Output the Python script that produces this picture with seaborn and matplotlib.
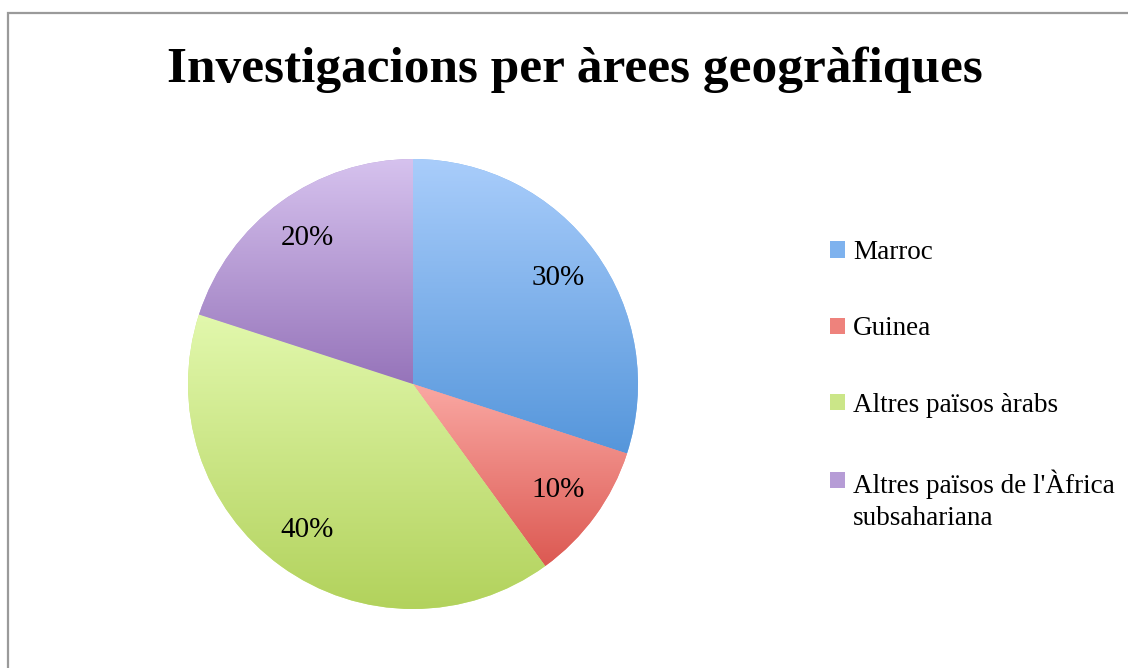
import numpy as np
import matplotlib.pyplot as plt
import seaborn as sns
from matplotlib.colors import LinearSegmentedColormap
from matplotlib.patches import Rectangle
from matplotlib.legend_handler import HandlerPatch

sns.set_theme(style="white")
plt.rcParams['font.family'] = ['Liberation Serif', 'DejaVu Serif']
plt.rcParams['text.color'] = 'black'

# Data
regions = ['Marroc', 'Guinea', 'Altres països àrabs',
           "Altres països de l'Àfrica\nsubsahariana"]
shares = [30, 10, 40, 20]
# (top, bottom) gradient colours of each slice
top_colors = ['#a9cdfb', '#faa8a3', '#e2f8ad', '#d6c2ee']
bottom_colors = ['#5596db', '#dc5952', '#b2d25c', '#9674ba']
mid_colors = ['#7eb2ee', '#ee827c', '#cbe688', '#b69cd6']

fig = plt.figure(figsize=(11.28, 6.68), dpi=100)
W, H = 1128, 668

# outer frame
fig.patches.append(Rectangle((8 / W, -0.05), 1.2, (668 - 13) / H + 0.05,
                             transform=fig.transFigure, fill=False,
                             edgecolor='#9a9a9a', linewidth=1.6))

fig.text(575 / W, 1 - 70 / H, 'Investigacions per àrees geogràfiques',
         ha='center', va='center', fontsize=37, fontweight='bold')

cx, cy, r = 413, 384, 225
ax = fig.add_axes([(cx - r) / W, (H - cy - r) / H, 2 * r / W, 2 * r / H])

wedges, texts, autotexts = ax.pie(shares, colors=mid_colors, startangle=90,
                                  counterclock=False, autopct='%1.0f%%',
                                  pctdistance=0.8,
                                  wedgeprops=dict(linewidth=0),
                                  textprops=dict(fontsize=21,
                                                 color='black'))

# vertical gradient fill inside every slice
grad = np.linspace(0, 1, 256).reshape(-1, 1)
for w, c_top, c_bot in zip(wedges, top_colors, bottom_colors):
    x0, y0, x1, y1 = w.get_path().get_extents().extents
    cmap = LinearSegmentedColormap.from_list('g', [c_bot, c_top])
    im = ax.imshow(grad, cmap=cmap, extent=[x0, x1, y0, y1],
                   origin='lower', aspect='auto', zorder=1.5,
                   interpolation='bilinear')
    im.set_clip_path(w)

ax.set_xlim(-1, 1)
ax.set_ylim(-1, 1)
ax.set_aspect('equal')
ax.axis('off')


def top_aligned_patch(legend, orig_handle, xdescent, ydescent, width,
                      height, fontsize):
    # put the marker of a two-line label next to its first line
    shift = 0
    if '\n' in regions[wedges.index(orig_handle)]:
        shift = 0.55 * fontsize * 1.35
    return Rectangle((-xdescent, -ydescent + shift), width, height)


leg = fig.legend(wedges, regions, loc='upper left',
                 bbox_to_anchor=(830 / W, 1 - 240 / H), frameon=False,
                 fontsize=19.5, handlelength=0.55, handleheight=0.55,
                 handletextpad=0.3, labelspacing=1.9, borderaxespad=0,
                 borderpad=0,
                 handler_map={w: HandlerPatch(patch_func=top_aligned_patch)
                              for w in wedges})
for t in leg.get_texts():
    t.set_linespacing(1.35)

plt.savefig('out.png', dpi=100)
